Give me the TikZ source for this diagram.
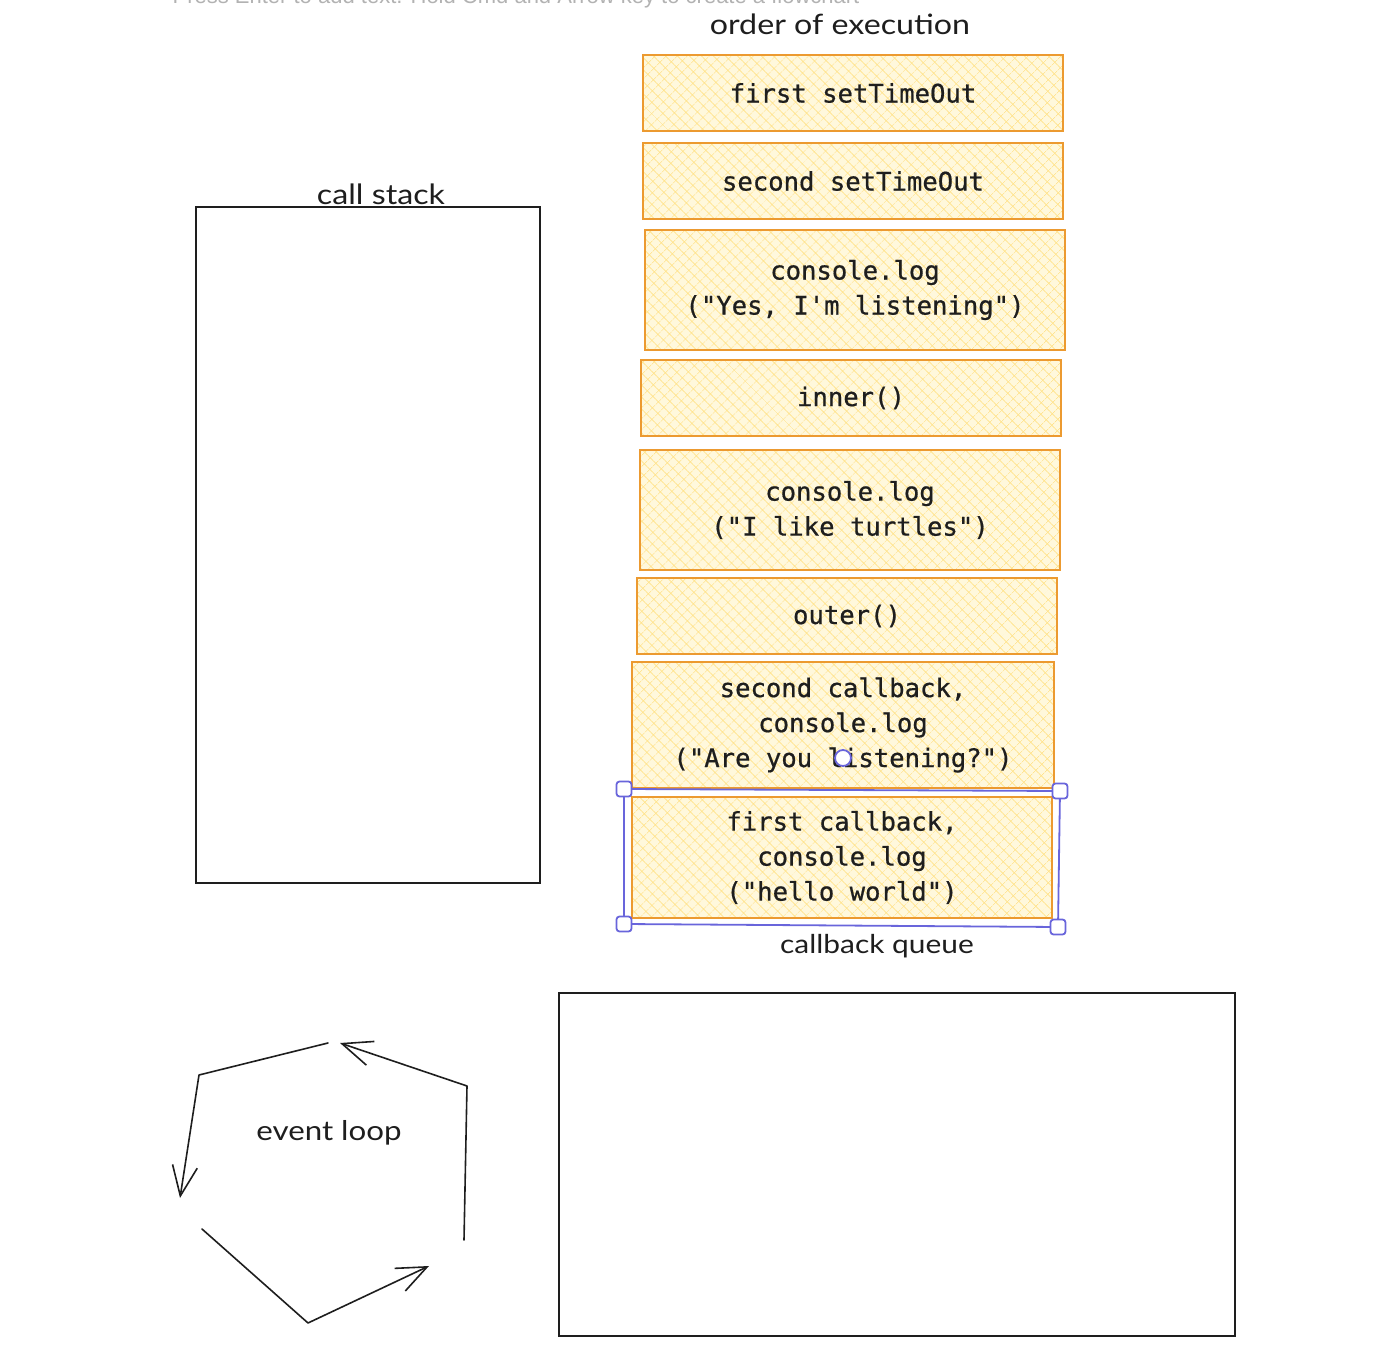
\documentclass[tikz,border=0pt]{standalone}
\usepackage{fontspec}
\setmainfont{Lato}
\newfontfamily\monof[FakeBold=0.7]{DejaVu Sans Mono}
\newfontfamily\handf[FakeStretch=1.15]{Lato}
\newfontfamily\uif{Liberation Sans}
\usetikzlibrary{patterns.meta,arrows.meta}
\definecolor{boxline}{HTML}{EC9A30}
\definecolor{hatchc}{HTML}{FFE38C}
\definecolor{boxfill}{HTML}{FFF8DC}
\definecolor{selblue}{HTML}{6965DB}
\definecolor{ink}{HTML}{1E1E1E}
\begin{document}
\begin{tikzpicture}[x=0.5pt,y=-0.5pt,
  cbox/.style={draw=boxline, line width=1pt, preaction={fill=boxfill},
    pattern={Hatch[angle=45,distance=4pt,line width=0.4pt]}, pattern color=hatchc,
    minimum width=210pt, inner sep=0pt, align=center, text=ink,
    font=\monof\fontsize{12.8}{17.5}\selectfont},
  plainbox/.style={draw=ink, line width=0.75pt, inner sep=0pt},
  hand/.style={text=ink, font=\handf\fontsize{14}{16}\selectfont, inner sep=0pt},
  loopline/.style={draw=ink, line width=0.8pt, line join=round, line cap=round},
  looparrow/.style={loopline, -{Straight Barb[length=15pt,width=12.5pt,line width=0.8pt]}},
  handle/.style={draw=selblue, fill=white, line width=0.9pt, rounded corners=1.5pt,
    minimum size=7.5pt, inner sep=0pt}
]
\useasboundingbox (0,0) rectangle (1392,1352);

% faint UI hint (cut off at top, as in the reference)
\node[anchor=base, text=black!30, font=\uif\fontsize{11}{12}\selectfont, inner sep=0pt]
  (hint) at (516,4) {Press Enter to add text. Hold Cmd and Arrow key to create a flowchart};

% labels
\node[hand] (order) at (840,24) {order of execution};
\node[hand] (cslabel) at (381,194) {call stack};
\node[hand, font=\handf\fontsize{13}{15}\selectfont] (cqlabel) at (877,946) {callback queue};
\node[hand, font=\handf\fontsize{13.6}{15}\selectfont] (ellabel) at (329,1133) {event loop};

% call stack and callback queue
\node[plainbox, minimum width=172pt, minimum height=338pt] (callstack) at (368,545) {};
\node[plainbox, minimum width=338pt, minimum height=171.5pt] (cbqueue) at (897,1164.5) {};

% order of execution boxes
\node[cbox, minimum height=38pt] (b1) at (853,93) {first setTimeOut};
\node[cbox, minimum height=38pt] (b2) at (853,181) {second setTimeOut};
\node[cbox, minimum height=60pt] (b3) at (855,290) {console.log\\("Yes, I'm listening")};
\node[cbox, minimum height=38pt] (b4) at (851,398) {inner()};
\node[cbox, minimum height=60pt] (b5) at (850,510) {console.log\\("I like turtles")};
\node[cbox, minimum height=38pt] (b6) at (847,616) {outer()};
\node[cbox, minimum width=211pt, minimum height=63pt] (b7) at (843,725) {second callback,\\console.log\\("Are you listening?")};
\node[cbox, minimum height=60.5pt] (b8) at (842,857.5) {first callback,\\console.log\\("hello world")};

% selection frame
\coordinate (s1) at (624,789);
\coordinate (s2) at (1060,791);
\coordinate (s3) at (1058,927);
\coordinate (s4) at (624,924);
\draw[selblue, line width=0.9pt] (s1) -- (s2) -- (s3) -- (s4) -- cycle;
\node[handle] (h1) at (s1) {};
\node[handle] (h2) at (s2) {};
\node[handle] (h3) at (s3) {};
\node[handle] (h4) at (s4) {};
\node[draw=selblue, fill=white, line width=0.9pt, circle, minimum size=8pt, inner sep=0pt] (rot) at (843,758) {};

% event loop arrows
\coordinate (e1) at (328,1043);
\coordinate (e2) at (199,1075);
\coordinate (e3) at (180,1198);
\coordinate (f1) at (464,1240);
\coordinate (f2) at (467,1086);
\coordinate (f3) at (340,1043);
\coordinate (g1) at (202,1229);
\coordinate (g2) at (308,1323);
\coordinate (g3) at (429,1266);
\draw[looparrow] (e1) -- (e2) -- (e3);
\draw[looparrow] (f1) -- (f2) -- (f3);
\draw[looparrow] (g1) -- (g2) -- (g3);
\end{tikzpicture}
\end{document}
